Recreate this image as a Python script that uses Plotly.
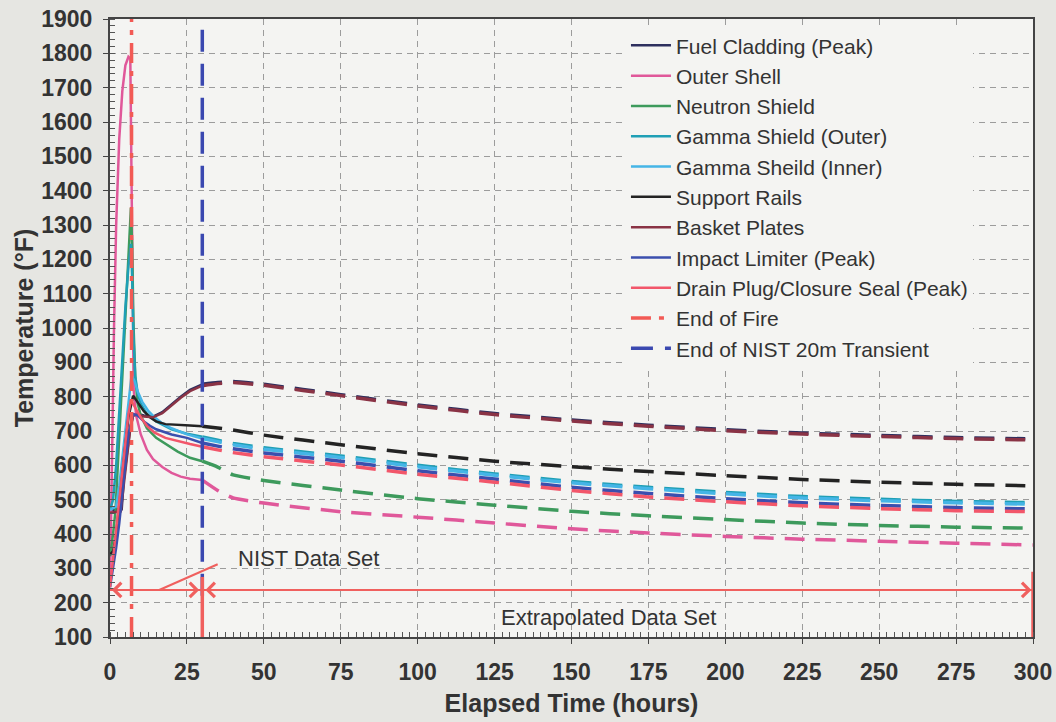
import plotly.graph_objects as go

# ---------------- data ----------------
series_names = [
    "Fuel Cladding (Peak)", "Outer Shell", "Neutron Shield",
    "Gamma Shield (Outer)", "Gamma Sheild (Inner)", "Support Rails",
    "Basket Plates", "Impact Limiter (Peak)", "Drain Plug/Closure Seal (Peak)",
]

# NIST data set (solid, 0-30 h)
fuel_t = [0, 3.8, 4.5, 5.5, 6.5, 7.5, 9, 11, 14, 17, 20, 23, 26, 30]
fuel_T = [470, 472, 560, 640, 705, 745, 750, 745, 742, 755, 778, 800, 820, 836]

outer_t = [0, 0.4, 0.8, 1.3, 2, 3, 4, 5, 6, 6.6, 7, 7.3, 7.7, 8.5, 10, 12, 14, 17, 20, 23, 26, 30]
outer_T = [245, 420, 700, 1000, 1300, 1550, 1690, 1765, 1790, 1785, 1450, 1050, 820, 745, 690, 645, 618, 595, 578, 567, 561, 557]

neutron_t = [0, 1, 1.8, 3, 4, 5, 6, 6.8, 7.2, 7.6, 8.2, 9, 10, 12, 15, 18, 22, 26, 30]
neutron_T = [335, 400, 470, 680, 860, 1040, 1220, 1350, 1240, 1020, 860, 780, 745, 708, 680, 662, 640, 622, 612]

gamma_out_t = [0, 1, 2, 3, 4, 5, 6, 6.8, 7.2, 7.6, 8.2, 9, 10, 12, 15, 20, 25, 30]
gamma_out_T = [470, 500, 600, 760, 920, 1060, 1180, 1245, 1150, 980, 860, 810, 780, 750, 728, 705, 692, 683]

gamma_in_t = [0, 2, 3, 4, 5, 6, 7, 8, 9, 10.5, 12.5, 14.5, 17, 20, 25, 30]
gamma_in_T = [470, 480, 540, 620, 700, 790, 862, 845, 815, 785, 758, 740, 722, 708, 690, 678]

rails_t = [0, 1, 2, 3, 4, 5, 6, 7.5, 9, 11, 13, 15, 18, 22, 26, 30]
rails_T = [340, 350, 400, 480, 570, 660, 740, 803, 785, 758, 740, 728, 720, 717, 716, 714]

basket_t = [0, 3.5, 4.5, 5.5, 6.5, 7.5, 9, 11, 14, 17, 20, 23, 26, 30]
basket_T = [462, 466, 545, 625, 700, 745, 748, 742, 740, 752, 775, 797, 816, 832]

impact_t = [0, 1, 2, 3, 4, 5, 6, 7.5, 9, 11, 13, 15, 20, 25, 30]
impact_T = [245, 300, 360, 430, 520, 610, 690, 750, 745, 728, 715, 705, 690, 680, 665]

drain_t = [0, 1, 2, 3, 4, 5, 6, 6.8, 8, 10, 12, 14.5, 18, 22, 26, 30]
drain_T = [245, 330, 420, 510, 590, 670, 750, 790, 772, 740, 715, 695, 680, 670, 662, 654]

# Extrapolated data set (dashed, 30-300 h)
t_ext = [30, 35, 40, 50, 75, 100, 125, 150, 175, 200, 225, 250, 275, 300]
fuel_ext = [836, 841, 844, 836, 806, 776, 751, 732, 717, 704, 694, 687, 681, 677]
outer_ext = [557, 527, 505, 490, 465, 449, 432, 415, 403, 393, 385, 379, 373, 368]
neutron_ext = [612, 595, 572, 556, 528, 503, 484, 466, 453, 442, 432, 425, 420, 417]
gamma_out_ext = [683, 673, 664, 651, 627, 600, 575, 553, 536, 521, 509, 501, 495, 491]
gamma_in_ext = [678, 669, 660, 647, 623, 596, 571, 549, 532, 517, 505, 497, 491, 487]
rails_ext = [714, 709, 703, 688, 660, 634, 612, 596, 582, 570, 559, 551, 545, 540]
basket_ext = [832, 838, 841, 833, 803, 773, 748, 729, 714, 701, 691, 684, 678, 674]
impact_ext = [665, 656, 648, 636, 612, 584, 560, 536, 518, 503, 491, 483, 477, 473]
drain_ext = [654, 645, 637, 625, 601, 574, 551, 527, 508, 494, 482, 474, 468, 465]

end_of_fire_h = 7
end_of_nist_h = 30
arrow_T = 237
x_ticks = [0, 25, 50, 75, 100, 125, 150, 175, 200, 225, 250, 275, 300]
y_ticks = list(range(100, 2000, 100))

colors = ["#2d2f5e", "#e0589a", "#3d9a5c", "#1f9fb5", "#45b5e6",
          "#232323", "#8a3345", "#3b4fae", "#f2566a"]

solid = [(fuel_t, fuel_T), (outer_t, outer_T), (neutron_t, neutron_T),
         (gamma_out_t, gamma_out_T), (gamma_in_t, gamma_in_T), (rails_t, rails_T),
         (basket_t, basket_T), (impact_t, impact_T), (drain_t, drain_T)]
dashed = [fuel_ext, outer_ext, neutron_ext, gamma_out_ext, gamma_in_ext,
          rails_ext, basket_ext, impact_ext, drain_ext]

FONT = "Liberation Sans, Arial, sans-serif"
TXT = "#333333"
fig = go.Figure()

# dashed extrapolations (no legend)
for name, ext, c in zip(series_names, dashed, colors):
    fig.add_trace(go.Scatter(x=t_ext, y=ext, mode="lines", showlegend=False,
                             line=dict(color=c, width=3.5, dash="20px,11px",
                                       shape="spline", smoothing=0.5),
                             hoverinfo="skip"))

# solid NIST portion
for name, (tt, TT), c in zip(series_names, solid, colors):
    fig.add_trace(go.Scatter(x=tt, y=TT, mode="lines", name=name,
                             line=dict(color=c, width=2.5)))

fig.add_trace(go.Scatter(x=[end_of_fire_h, end_of_fire_h], y=[100, 1900], mode="lines",
                         name="End of Fire",
                         line=dict(color="#f25a55", width=3.5, dash="20px,8px,5px,8px")))
fig.add_trace(go.Scatter(x=[end_of_nist_h, end_of_nist_h], y=[220, 1900], mode="lines",
                         name="End of NIST 20m Transient",
                         line=dict(color="#3a48b0", width=3.5, dash="22px,12px")))

red = "#f0605e"
shapes = [
    dict(type="line", xref="x", yref="y", x0=0, x1=30, y0=arrow_T, y1=arrow_T,
         line=dict(color=red, width=2)),
    dict(type="line", xref="x", yref="y", x0=30, x1=300, y0=arrow_T, y1=arrow_T,
         line=dict(color=red, width=2)),
    dict(type="line", xref="x", yref="y", x0=16, x1=35, y0=arrow_T, y1=312,
         line=dict(color=red, width=2)),
    dict(type="line", xref="x", yref="y", x0=30, x1=30, y0=92, y1=275,
         line=dict(color=red, width=3.5)),
    dict(type="line", xref="x", yref="y", x0=300, x1=300, y0=92, y1=290,
         line=dict(color=red, width=3.5)),
]

ann = []
for head, tail in [(0.6, 8), (29.0, 20), (31.0, 40), (299.5, 280)]:
    ann.append(dict(x=head, y=arrow_T, ax=tail, ay=arrow_T, xref="x", yref="y",
                    axref="x", ayref="y", text="", showarrow=True, arrowhead=4,
                    arrowsize=1.4, arrowwidth=2, arrowcolor=red, standoff=0))
ann.append(dict(x=41, y=330, xref="x", yref="y", text="NIST Data Set", showarrow=False,
                xanchor="left", yanchor="middle",
                font=dict(family=FONT, size=22, color=TXT)))
ann.append(dict(x=162, y=158, xref="x", yref="y", text="Extrapolated Data Set",
                showarrow=False, xanchor="center", yanchor="middle",
                font=dict(family=FONT, size=22, color=TXT)))

grid = dict(showgrid=True, gridcolor="#9c9c9c", gridwidth=1, griddash="6px,5px")

fig.update_layout(
    width=1056, height=722,
    margin=dict(l=110, r=23, t=19, b=85),
    paper_bgcolor="#e6e6e2", plot_bgcolor="#f4f4f2",
    font=dict(family=FONT, color=TXT),
    shapes=shapes, annotations=ann,
    legend=dict(x=0.559, y=0.990, xanchor="left", yanchor="top",
                bgcolor="#f4f4f2", borderwidth=0,
                font=dict(family=FONT, size=21, color=TXT),
                itemwidth=40, tracegroupgap=0),
    xaxis=dict(range=[0, 300], tickvals=x_ticks, ticks="outside", ticklen=5,
               tickcolor="#444", showline=True, linecolor="#444", linewidth=2,
               mirror=True, zeroline=False, ticklabelstandoff=8, automargin=False,
               tickfont=dict(family=FONT, size=23, color=TXT, weight="bold"),
               title=dict(text="<b>Elapsed Time (hours)</b>", standoff=11,
                          font=dict(family=FONT, size=25, color=TXT)),
               minor=dict(ticks="inside", dtick=2.5, ticklen=5, tickcolor="#555",
                          showgrid=False),
               **grid),
    yaxis=dict(range=[100, 1900], tickvals=y_ticks, ticks="outside", ticklen=5,
               tickcolor="#444", showline=True, linecolor="#444", linewidth=2,
               mirror=True, zeroline=False, ticklabelstandoff=6, automargin=False,
               tickfont=dict(family=FONT, size=23, color=TXT, weight="bold"),
               title=dict(text="<b>Temperature (°F)</b>", standoff=0,
                          font=dict(family=FONT, size=25, color=TXT)),
               minor=dict(ticks="inside", dtick=20, ticklen=5, tickcolor="#555",
                          showgrid=False),
               **grid),
)

fig.write_html("out.html", config={"displayModeBar": False},
               post_script="document.body.style.margin='0';document.body.style.padding='0';")
